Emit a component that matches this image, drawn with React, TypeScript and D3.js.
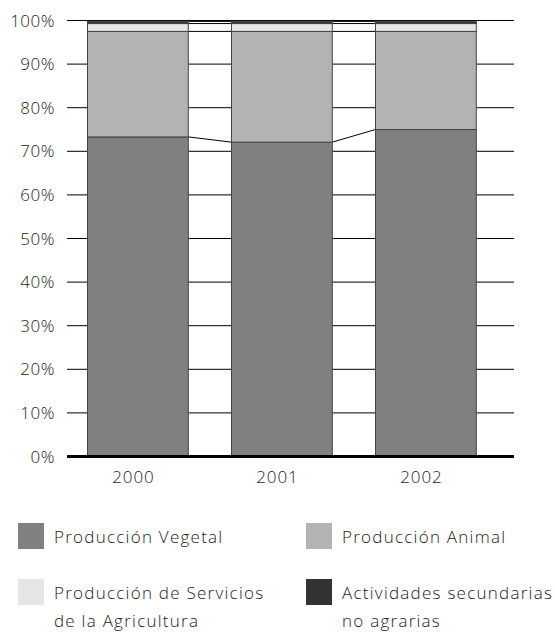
import React from "react";
import * as d3 from "d3";

const years = ["2000", "2001", "2002"];
const seriesNames = [
  "Producción Vegetal",
  "Producción Animal",
  "Producción de Servicios de la Agricultura",
  "Actividades secundarias no agrarias",
];
const vegetal = [73.3, 72.1, 75.0];
const animal = [24.2, 25.4, 22.5];
const servicios = [1.8, 1.8, 1.8];
const secundarias = [0.5, 0.5, 0.5];
const yTicks = [0, 10, 20, 30, 40, 50, 60, 70, 80, 90, 100];
const colors = ["#808080", "#b3b3b3", "#e6e6e6", "#333333"];

const W = 555;
const H = 637;
const FONT = "'Open Sans', Lato, sans-serif";

export default function App() {
  const rows = years.map((y, i) => ({
    year: y,
    s0: vegetal[i],
    s1: animal[i],
    s2: servicios[i],
    s3: secundarias[i],
  }));
  const keys = ["s0", "s1", "s2", "s3"];
  const stacked = d3.stack<any>().keys(keys)(rows);

  const x = d3
    .scaleBand<string>()
    .domain(years)
    .range([65.9, 497.9])
    .paddingInner(0.3)
    .paddingOuter(0.15);
  const y = d3.scaleLinear().domain([0, 100]).range([456.5, 20.5]);
  const gridX0 = 67;
  const gridX1 = 514;
  const textProps = {
    fontFamily: FONT,
    fontSize: 17,
    fontWeight: 300,
    letterSpacing: 1.25,
    fill: "#222",
  };

  return (
    <svg width={W} height={H} style={{ position: "absolute", left: 0, top: 0 }}>
      <rect width={W} height={H} fill="#fff" />
      {yTicks.map((t) => (
        <g key={t}>
          {t > 0 && (
            <line x1={gridX0} x2={gridX1} y1={y(t)} y2={y(t)} stroke="#000" strokeWidth={1} />
          )}
          <text x={55} y={y(t) + 6} textAnchor="end" {...textProps} letterSpacing={0.5}>
            {t + "%"}
          </text>
        </g>
      ))}
      {stacked.map((s, si) =>
        years.slice(0, -1).map((yr, i) => (
          <line
            key={"c" + si + i}
            x1={(x(yr) as number) + x.bandwidth()}
            x2={x(years[i + 1]) as number}
            y1={y(s[i][1])}
            y2={y(s[i + 1][1])}
            stroke="#000"
            strokeWidth={1}
          />
        ))
      )}
      {stacked.map((s, si) =>
        s.map((d, i) => (
          <rect
            key={"b" + si + i}
            x={x(years[i]) as number}
            y={y(d[1])}
            width={x.bandwidth()}
            height={y(d[0]) - y(d[1])}
            fill={colors[si]}
            stroke="#444"
            strokeWidth={1}
          />
        ))
      )}
      <line x1={gridX0} x2={gridX1} y1={y(0)} y2={y(0)} stroke="#000" strokeWidth={3} />
      {years.map((yr) => (
        <text
          key={yr}
          x={(x(yr) as number) + x.bandwidth() / 2 - 4.5}
          y={483}
          textAnchor="middle"
          {...textProps}
          letterSpacing={0.9}
        >
          {yr}
        </text>
      ))}
      {[
        { i: 0, sx: 18, sy: 523, lines: ["Producción Vegetal"] },
        { i: 1, sx: 306, sy: 523, lines: ["Producción Animal"] },
        { i: 2, sx: 18, sy: 579, lines: ["Producción de Servicios", "de la Agricultura"] },
        { i: 3, sx: 306, sy: 579, lines: ["Actividades secundarias", "no agrarias"] },
      ].map((l) => (
        <g key={"l" + l.i}>
          <rect x={l.sx} y={l.sy} width={26} height={26} fill={colors[l.i]} />
          <text {...textProps}>
            {l.lines.map((ln, k) => (
              <tspan key={k} x={l.sx + 36} y={l.sy + 20 + k * 28}>
                {ln}
              </tspan>
            ))}
          </text>
        </g>
      ))}
    </svg>
  );
}
